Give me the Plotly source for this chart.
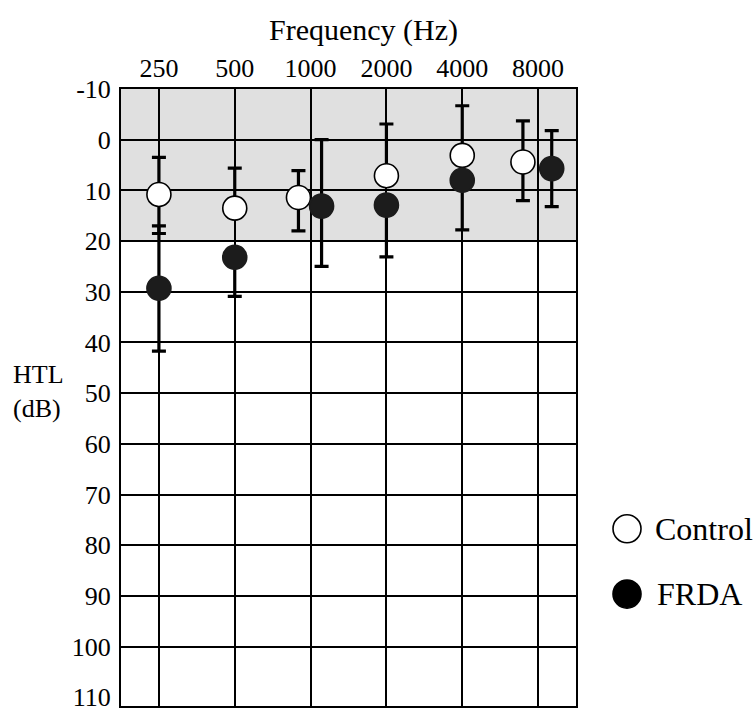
import math
import plotly.graph_objects as go

# ---- data ----
freqs = [250, 500, 1000, 2000, 4000, 8000]
freq_labels = ["250", "500", "1000", "2000", "4000", "8000"]
y_ticks = [-10, 0, 10, 20, 30, 40, 50, 60, 70, 80, 90, 100, 110]
y_grid = [-10, 0, 10, 20, 30, 40, 50, 60, 70, 80, 90, 100]

# horizontal dodge of each group (in octaves)
control_dodge = [0, 0, -0.16, 0, 0, -0.2]
frda_dodge = [0, 0, 0.145, 0, 0, 0.18]

control_mean = [10.8, 13.5, 11.4, 7.1, 3.1, 4.4]
control_err_up = [7.3, 7.9, 5.3, 10.2, 9.8, 8.1]     # toward lower dB
control_err_down = [7.7, 0, 6.6, 0, 0, 7.6]          # toward higher dB

frda_mean = [29.3, 23.2, 13.1, 12.9, 8.0, 5.7]
frda_err_up = [12.3, 0, 13.1, 0, 0, 7.5]
frda_err_down = [12.4, 7.7, 11.9, 10.2, 9.8, 7.5]

FONT = "Liberation Serif"

control_x = [f * 2 ** d for f, d in zip(freqs, control_dodge)]
frda_x = [f * 2 ** d for f, d in zip(freqs, frda_dodge)]

fig = go.Figure()
fig.add_trace(go.Scatter(
    x=control_x, y=control_mean, mode="markers", name="Control",
    marker=dict(size=24, color="white", line=dict(color="black", width=1.6)),
    error_y=dict(type="data", symmetric=False, array=control_err_down,
                 arrayminus=control_err_up, color="black", thickness=3.2, width=7),
    showlegend=False, cliponaxis=False,
))
fig.add_trace(go.Scatter(
    x=frda_x, y=frda_mean, mode="markers", name="FRDA",
    marker=dict(size=24, color="#1c1c1c", line=dict(color="#1c1c1c", width=1.6)),
    error_y=dict(type="data", symmetric=False, array=frda_err_down,
                 arrayminus=frda_err_up, color="black", thickness=3.2, width=7),
    showlegend=False, cliponaxis=False,
))

half_oct = math.log10(2) / 2
axis_common = dict(
    showline=True, linecolor="black", linewidth=2, mirror=True,
    zeroline=False, ticks="",
    tickfont=dict(family=FONT, size=26, color="black"),
)
fig.update_xaxes(
    type="log", side="top",
    range=[math.log10(freqs[0]) - half_oct, math.log10(freqs[-1]) + half_oct],
    tickvals=freqs, ticktext=freq_labels, ticklabelstandoff=0,
    showgrid=True, gridcolor="black", gridwidth=1.6, **axis_common,
)
fig.update_yaxes(
    range=[111.7, -10], tickvals=y_ticks, ticktext=[str(v) for v in y_ticks],
    ticklabelstandoff=3, showgrid=False,
    minor=dict(tickmode="array", tickvals=y_grid, showgrid=True,
               gridcolor="black", gridwidth=1.6, ticks=""),
    **axis_common,
)

shapes = [
    dict(type="rect", xref="paper", yref="y", x0=0, x1=1, y0=-10, y1=20,
         fillcolor="#e0e0e0", line=dict(width=0), layer="below"),
]
# legend symbols
for yc, fill in [(0.2873, "white"), (0.1814, "black")]:
    shapes.append(dict(
        type="circle", xref="paper", yref="paper",
        xsizemode="pixel", ysizemode="pixel", xanchor=1.1121, yanchor=yc,
        x0=-14, x1=14, y0=-14, y1=14,
        fillcolor=fill, line=dict(color="black", width=1.6),
    ))

annotations = [
    dict(text="Frequency (Hz)", xref="paper", yref="paper", x=0.532, y=1.095,
         xanchor="center", yanchor="middle", showarrow=False,
         font=dict(family=FONT, size=30, color="black")),
    dict(text="HTL<br>(dB)", xref="paper", yref="paper", x=-0.2418, y=0.5104,
         xanchor="left", yanchor="middle", align="left", showarrow=False,
         font=dict(family=FONT, size=26, color="black")),
    dict(text="Control", xref="paper", yref="paper", x=1.1692, y=0.2873,
         xanchor="left", yanchor="middle", showarrow=False,
         font=dict(family=FONT, size=32, color="black")),
    dict(text="FRDA", xref="paper", yref="paper", x=1.1736, y=0.1814,
         xanchor="left", yanchor="middle", showarrow=False,
         font=dict(family=FONT, size=32, color="black")),
]

fig.update_layout(
    width=755, height=719,
    margin=dict(l=121, r=179, t=89, b=7),
    paper_bgcolor="white", plot_bgcolor="white",
    shapes=shapes, annotations=annotations,
    font=dict(family=FONT, color="black"),
    showlegend=False,
)

fig.write_html("out.html")
